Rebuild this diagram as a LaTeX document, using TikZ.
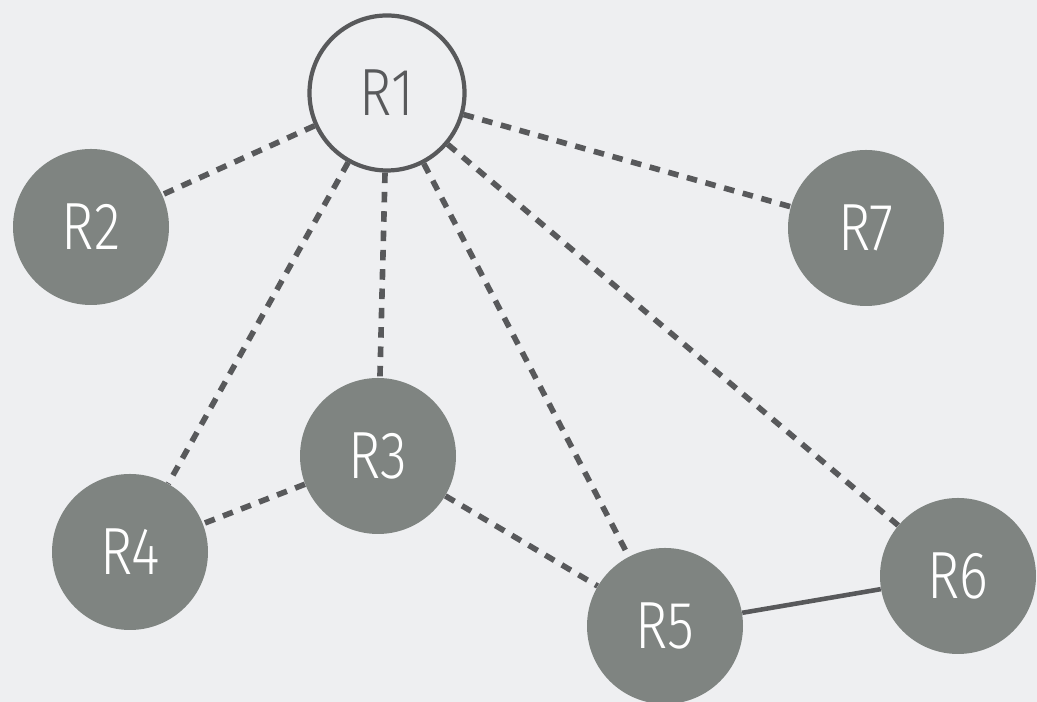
\documentclass[tikz,border=0pt]{standalone}
\usepackage{fontspec}
\setmainfont{Fira Sans Light}[FakeStretch=0.82]
\definecolor{bgcol}{HTML}{EEEFF1}
\definecolor{nodecol}{HTML}{7F8481}
\definecolor{linecol}{HTML}{58595B}
\tikzset{
    router/.style={circle,fill=nodecol,text=white,minimum size=3.12cm,inner sep=0pt,font=\fontsize{38}{40}\selectfont},
    link/.style={draw=linecol,line width=3.2pt,dash pattern=on 6pt off 5pt},
    wire/.style={draw=linecol,line width=2.6pt}
}

\begin{document}
\begin{tikzpicture}
    \fill[bgcol] (0,0) rectangle (20.74,14.04);
    \useasboundingbox (0,0) rectangle (20.74,14.04);

    \node[router,fill=bgcol,draw=linecol,line width=2.4pt,text=linecol,minimum size=3.1cm] (r1) at (7.74,12.18) {R1};
    \node[router] (r2) at (1.82,9.50) {R2};
    \node[router] (r7) at (17.32,9.48) {R7};
    \node[router] (r3) at (7.56,4.92) {R3};
    \node[router] (r4) at (2.60,3.00) {R4};
    \node[router] (r5) at (13.30,1.52) {R5};
    \node[router] (r6) at (19.16,2.52) {R6};

    \draw[link] (r1) -- (r2);
    \draw[link] (r1) -- (r4);
    \draw[link] (r1) -- (r3);
    \draw[link] (r1) -- (r5);
    \draw[link] (r1) -- (r6);
    \draw[link] (r1) -- (r7);
    \draw[link] (r3) -- (r4);
    \draw[link] (r3) -- (r5);
    \draw[wire] (r5) -- (r6);
\end{tikzpicture}
\end{document}
